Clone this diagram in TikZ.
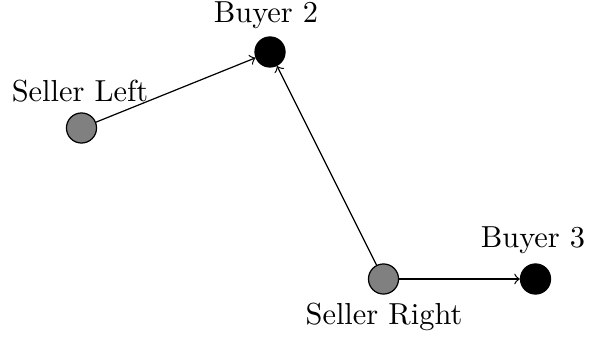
\documentclass[tikz,border=0pt]{standalone}
\begin{document}
\begin{tikzpicture}[x=0.329pt, y=-0.329pt,
  seller/.style={circle, draw=black, fill=gray, minimum size=9.9pt, inner sep=0pt},
  buyer/.style={circle, draw=black, fill=black, minimum size=9.9pt, inner sep=0pt},
  lbl/.style={anchor=base, inner sep=0pt},
  link/.style={->, line width=0.4pt}]
  \useasboundingbox (0,0) rectangle (589,339);
  % agents
  \node[seller] (sl) at (81.5,128) {};
  \node[buyer]  (b2) at (270,52) {};
  \node[seller] (sr) at (383.5,279) {};
  \node[buyer]  (b3) at (535.5,279) {};
  % names
  \node[lbl] (tsl) at (80,101.5) {Seller Left};
  \node[lbl] (tb2) at (266,23) {Buyer 2};
  \node[lbl] (tb3) at (533,248) {Buyer 3};
  \node[lbl] (tsr) at (384,324) {Seller Right};
  % trades
  \draw[link] (sl) -- (b2);
  \draw[link] (sr) -- (b2);
  \draw[link] (sr) -- (b3);
\end{tikzpicture}
\end{document}
